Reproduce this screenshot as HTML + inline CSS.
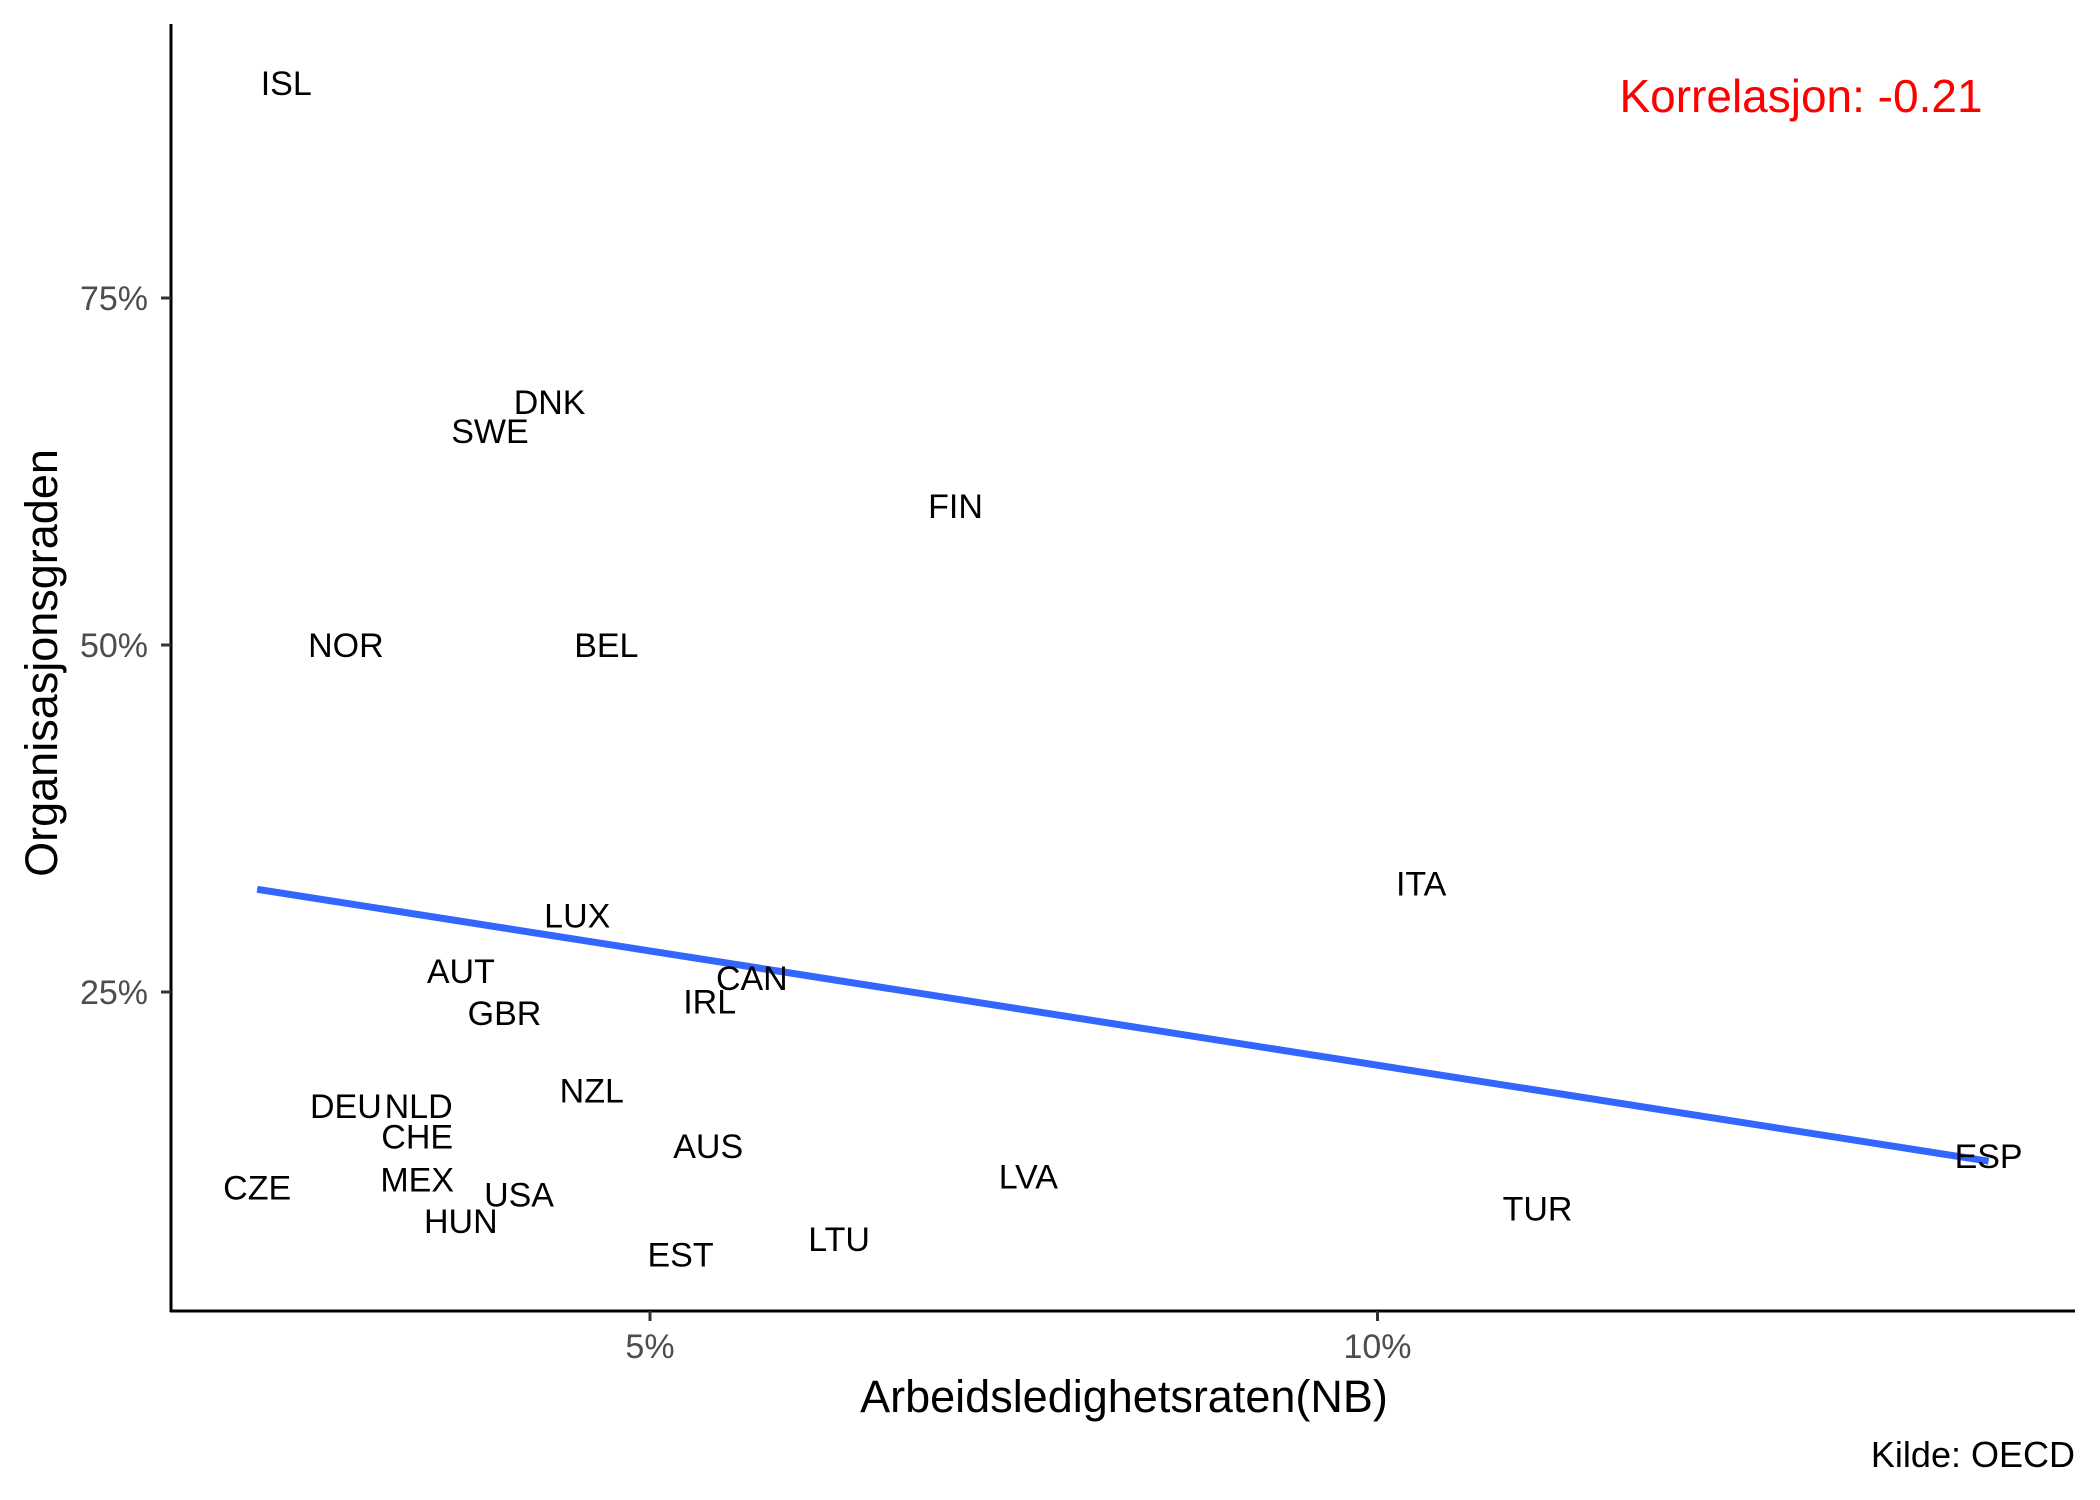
<!DOCTYPE html>
<html><head><meta charset="utf-8"><style>
html,body{margin:0;padding:0;background:#fff;}
svg{display:block;font-family:"Liberation Sans",Arial,sans-serif;}
</style></head><body>
<svg id="chart" width="2100" height="1500" viewBox="0 0 2100 1500">
<g id="plot"></g>
<text x="1801" y="112" font-size="46" fill="#ff0000" text-anchor="middle">Korrelasjon: -0.21</text>
<text x="1124" y="1412" font-size="45" fill="#000" text-anchor="middle">Arbeidsledighetsraten(NB)</text>
<text transform="translate(57,663) rotate(-90)" font-size="45" fill="#000" text-anchor="middle">Organisasjonsgraden</text>
<text x="2075" y="1467" font-size="36" fill="#000" text-anchor="end">Kilde: OECD</text>
</svg>
<script>
const countries = ["ISL","DNK","SWE","FIN","NOR","BEL","ITA","LUX","AUT","CAN","IRL","GBR","NZL","DEU","NLD","CHE","AUS","MEX","CZE","LVA","ESP","USA","HUN","TUR","EST","LTU"];
const unemployment = [2.50,4.31,3.90,7.10,2.91,4.70,10.30,4.50,3.70,5.70,5.41,4.00,4.60,2.91,3.41,3.40,5.40,3.40,2.30,7.60,14.20,4.10,3.70,11.10,5.21,6.30];
const unionDensity = [90.5,67.5,65.4,60.0,50.0,50.0,32.8,30.5,26.5,26.0,24.3,23.5,17.9,16.8,16.8,14.6,13.9,11.5,10.9,11.7,13.2,10.4,8.5,9.4,6.1,7.2];
const xTicks = [5,10];
const yTicks = [25,50,75];

const NS="http://www.w3.org/2000/svg";
const g=document.getElementById('plot');
function X(u){return 650+(u-5)*145.5;}
function Y(v){return 645-(v-50)*13.88;}
function mk(t,a){const e=document.createElementNS(NS,t);for(const k in a)e.setAttribute(k,a[k]);g.appendChild(e);return e;}

let ax=mk('line',{x1:171,y1:24,x2:171,y2:1312,stroke:'#000','stroke-width':3});


ax=mk('line',{x1:170,y1:1311,x2:2075,y2:1311,stroke:'#000','stroke-width':3});



yTicks.forEach(v=>{
  const t=mk('line',{x1:161,y1:Y(v),x2:171,y2:Y(v),stroke:'#333','stroke-width':3});
  
  
  const l=mk('text',{x:148,y:Y(v)+12,'font-size':34,fill:'#4d4d4d','text-anchor':'end'});
  l.textContent=v+'%';
  
  
});
xTicks.forEach(u=>{
  const t=mk('line',{x1:X(u),y1:1311,x2:X(u),y2:1321,stroke:'#333','stroke-width':3});
  
  
  const l=mk('text',{x:X(u),y:1358,'font-size':34,fill:'#4d4d4d','text-anchor':'middle'});
  l.textContent=u+'%';
  
  
});

const n=unemployment.length;
const mx=unemployment.reduce((a,b)=>a+b,0)/n, my=unionDensity.reduce((a,b)=>a+b,0)/n;
let sxy=0,sxx=0;for(let i=0;i<n;i++){sxy+=(unemployment[i]-mx)*(unionDensity[i]-my);sxx+=(unemployment[i]-mx)**2;}
const b=sxy/sxx,a=my-b*mx;
const x0=Math.min(...unemployment),x1=Math.max(...unemployment);
const rl=mk('line',{x1:X(x0),y1:Y(a+b*x0),x2:X(x1),y2:Y(a+b*x1),stroke:'#3366FF','stroke-width':7});



countries.forEach((c,i)=>{
  const t=mk('text',{x:X(unemployment[i]),y:Y(unionDensity[i])+12,'font-size':34,fill:'#000','text-anchor':'middle'});
  t.textContent=c;
  
  
});
</script>
</body></html>
